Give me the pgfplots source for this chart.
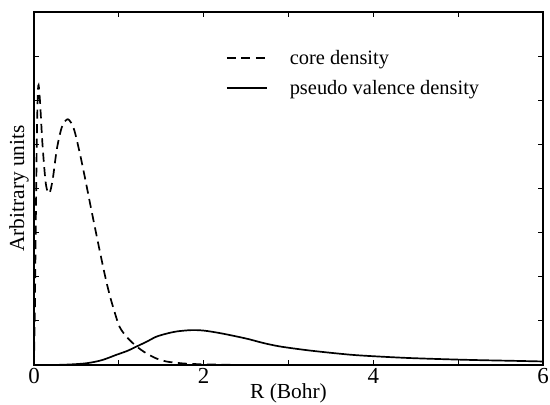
\documentclass[border=0pt]{standalone}
\usepackage{fontspec}
\setmainfont{Liberation Serif}
\usepackage{pgfplots}
\pgfplotsset{compat=1.18}
\begin{document}
\begin{tikzpicture}
\begin{axis}[
  scale only axis,
  width=509bp, height=353bp,
  xmin=0, xmax=6, ymin=0, ymax=8,
  xtick={0,2,4,6},
  minor xtick={1,3,5},
  ytick={0,1,2,3,4,5,6,7,8},
  yticklabels={},
  tick align=inside,
  major tick length=5bp, minor tick length=5bp,
  tick style={line width=0.9pt, black},
  axis line style={line width=1.8pt},
  /pgf/number format/assume math mode=true,
  tick label style={font=\fontsize{23}{26}\selectfont},
  xticklabel style={yshift=0bp},
  xlabel={R (Bohr)},
  ylabel={Arbitrary units},
  label style={font=\fontsize{21.5}{24}\selectfont},
  xlabel style={yshift=7bp},
  ylabel style={yshift=-5bp},
  legend style={draw=none, fill=none, at={(0.377,0.898)}, anchor=north west,
    font=\fontsize{20.5}{24}\selectfont, row sep=10bp, column sep=20bp, inner sep=0pt,
    cells={anchor=west}},
  legend image code/.code={\draw[line width=1.7pt, #1] (0bp,0bp) -- (40bp,0bp);},
  every axis plot/.append style={line width=1.7pt},
]
\addplot[black, dash pattern=on 9bp off 5.5bp, smooth, tension=0.5] coordinates {
(0,0) (0.01,1.2) (0.02,3.0) (0.035,5.3) (0.05,6.33) (0.07,6.0) (0.10,5.0) (0.14,4.1) (0.18,3.89)
(0.22,4.2) (0.27,4.9) (0.33,5.4) (0.40,5.57) (0.47,5.35) (0.54,4.8) (0.60,4.25) (0.66,3.67)
(0.72,3.1) (0.78,2.54) (0.84,2.0) (0.89,1.6) (0.95,1.2) (1.01,0.86) (1.1,0.62) (1.21,0.42)
(1.32,0.27) (1.44,0.15) (1.56,0.08) (1.68,0.05) (1.8,0.03) (2.0,0.015) (2.3,0.005) (2.6,0.0)
};
\addlegendentry{core density}
\addplot[black, smooth, tension=0.5] coordinates {
(0,0) (0.2,0.0) (0.4,0.01) (0.62,0.04) (0.8,0.11) (0.97,0.23) (1.1,0.32) (1.21,0.42) (1.33,0.53)
(1.44,0.64) (1.56,0.71) (1.68,0.76) (1.85,0.79) (2.0,0.78) (2.2,0.72) (2.5,0.6) (2.7,0.5)
(2.9,0.42) (3.2,0.34) (3.48,0.28) (3.75,0.23) (3.99,0.2) (4.4,0.16) (4.86,0.13) (5.25,0.11) (5.64,0.095) (6.0,0.08)
};
\addlegendentry{pseudo valence density}
\end{axis}
\pgfresetboundingbox
\path[use as bounding box] (-34bp,-40bp) rectangle (516bp,365bp);
\end{tikzpicture}
\end{document}
